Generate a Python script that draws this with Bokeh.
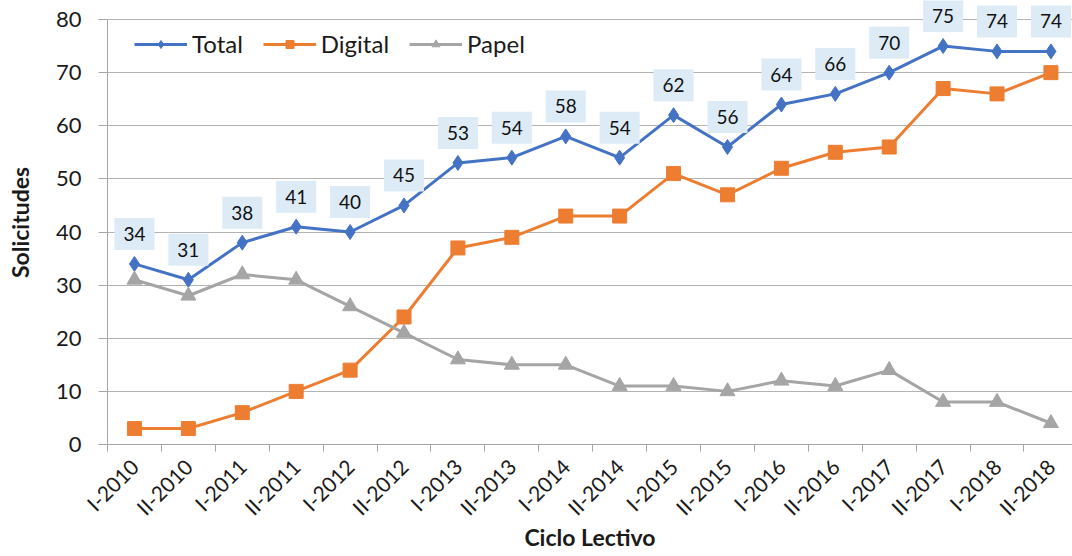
import math
from bokeh.plotting import figure
from bokeh.models import Range1d, FixedTicker, Legend, LegendItem, ColumnDataSource, Label
from bokeh.core.properties import value
from bokeh.embed import file_html
from bokeh.resources import INLINE

ciclos = ["I-2010", "II-2010", "I-2011", "II-2011", "I-2012", "II-2012", "I-2013", "II-2013",
          "I-2014", "II-2014", "I-2015", "II-2015", "I-2016", "II-2016", "I-2017", "II-2017",
          "I-2018", "II-2018"]
total = [34, 31, 38, 41, 40, 45, 53, 54, 58, 54, 62, 56, 64, 66, 70, 75, 74, 74]
digital = [3, 3, 6, 10, 14, 24, 37, 39, 43, 43, 51, 47, 52, 55, 56, 67, 66, 70]
papel = [31, 28, 32, 31, 26, 21, 16, 15, 15, 11, 11, 10, 12, 11, 14, 8, 8, 4]
y_ticks = [0, 10, 20, 30, 40, 50, 60, 70, 80]

FONT = "Lato"
TXT = "#1a1a1a"
xs = list(range(len(ciclos)))

# frame extends to the top of the canvas so the data labels above 80 are not clipped;
# the visible axis is bounded to 0..80
top_extra = 80 * 19 / 425
p = figure(frame_width=965, frame_height=444, output_backend="svg", toolbar_location=None,
           x_range=Range1d(-0.5, 17.4), y_range=Range1d(0, 80 + top_extra),
           min_border_left=107, min_border_right=0, min_border_top=0, min_border_bottom=100)
p.outline_line_color = None
p.background_fill_color = "white"

# axes
p.xaxis.ticker = FixedTicker(ticks=xs, minor_ticks=[i - 0.5 for i in range(len(ciclos) + 1)])
p.xaxis.major_label_overrides = {i: c for i, c in enumerate(ciclos)}
p.xaxis.major_label_orientation = math.pi / 4
p.xaxis.major_tick_line_color = None
p.xaxis.major_tick_out = 0
p.xaxis.major_tick_in = 0
p.xaxis.minor_tick_in = 0
p.xaxis.minor_tick_out = 7
p.xaxis.minor_tick_line_color = "#a6a6a6"
p.xaxis.axis_line_color = "#a6a6a6"
p.xaxis.major_label_text_font = FONT
p.xaxis.major_label_text_font_size = "21px"
p.xaxis.major_label_text_color = TXT
p.xaxis.major_label_standoff = 11
p.xaxis.axis_label = "Ciclo Lectivo"
p.xaxis.axis_label_text_font = FONT
p.xaxis.axis_label_text_font_size = "23px"
p.xaxis.axis_label_text_font_style = "bold"
p.xaxis.axis_label_text_color = TXT
p.xaxis.axis_label_standoff = -8

p.yaxis.ticker = FixedTicker(ticks=y_ticks)
p.yaxis.bounds = (y_ticks[0], y_ticks[-1])
p.yaxis.axis_line_color = "#a6a6a6"
p.yaxis.major_tick_line_color = "#a6a6a6"
p.yaxis.major_tick_in = 0
p.yaxis.major_tick_out = 9
p.yaxis.minor_tick_line_color = None
p.yaxis.major_label_text_font = FONT
p.yaxis.major_label_text_font_size = "22px"
p.yaxis.major_label_text_color = TXT
p.yaxis.major_label_standoff = 17
p.yaxis.axis_label = "Solicitudes"
p.yaxis.axis_label_text_font = FONT
p.yaxis.axis_label_text_font_size = "23px"
p.yaxis.axis_label_text_font_style = "bold"
p.yaxis.axis_label_text_color = TXT
p.yaxis.axis_label_standoff = 19

p.xgrid.grid_line_color = None
p.ygrid.grid_line_color = "#b3b3b3"
p.ygrid.grid_line_width = 1

src = ColumnDataSource(dict(x=xs, total=total, digital=digital, papel=papel,
                            lbl=[str(v) for v in total]))

# series
lt = p.line("x", "total", source=src, line_color="#4472C4", line_width=3)
mt = p.scatter("x", "total", source=src, marker="diamond", size=15, color="#4472C4")
ld = p.line("x", "digital", source=src, line_color="#ED7D31", line_width=3)
md = p.scatter("x", "digital", source=src, marker="square", size=14, color="#ED7D31")
lp = p.line("x", "papel", source=src, line_color="#A5A5A5", line_width=3)
mp = p.scatter("x", "papel", source=src, marker="triangle", size=15, color="#A5A5A5")

# data labels for Total
if "padding" in Label.properties():
    for xi, v in zip(xs, total):
        p.add_layout(Label(x=xi, y=v, text=str(v), y_offset=30,
                           text_align="center", text_baseline="middle",
                           text_font=FONT, text_font_size="19px", text_color="#111111",
                           background_fill_color="#DDEBF7", padding=9))
else:
    p.text("x", "total", text="lbl", source=src, y_offset=-30,
           text_align="center", text_baseline="middle",
           text_font=value(FONT), text_font_size="19px", text_color="#111111",
           background_fill_color="#DDEBF7", padding=9)

legend = Legend(items=[LegendItem(label="Total", renderers=[lt, mt]),
                       LegendItem(label="Digital", renderers=[ld, md]),
                       LegendItem(label="Papel", renderers=[lp, mp])],
                orientation="horizontal", location=(27, 386),
                label_text_font=FONT, label_text_font_size="24px", label_text_color=TXT,
                glyph_width=53, glyph_height=20, label_standoff=5, spacing=20,
                background_fill_alpha=0, border_line_color=None,
                margin=0, padding=2, label_height=20)
p.add_layout(legend)

open("out.html", "w").write(file_html(p, INLINE))
